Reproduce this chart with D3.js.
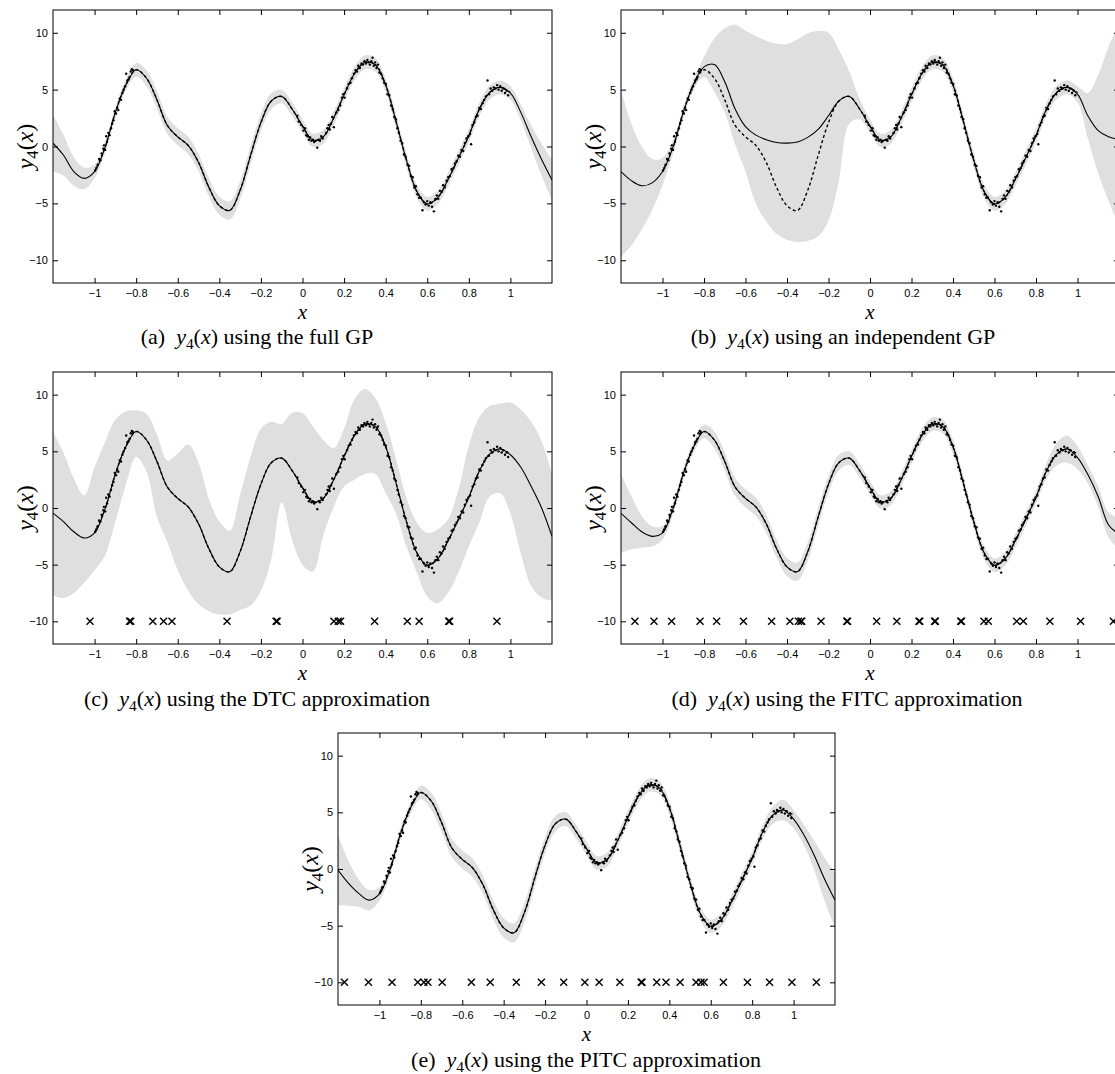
<!DOCTYPE html>
<meta charset="utf-8">
<style>
body { margin: 0; background: #fff; }
svg { display: block; }
.tick text { font-family: "Liberation Sans", Arial, sans-serif; font-size: 11px; }
.caption { font-family: "Liberation Serif", "Times New Roman", serif; font-size: 22px; }
.axlabel { font-family: "Liberation Serif", "Times New Roman", serif; }
</style>
<svg width="1115" height="1074"></svg>
<script src="https://d3js.org/d3.v7.min.js"></script>
<script>

var xs = [-1.2, -1.15, -1.1, -1.05, -1, -0.95, -0.9, -0.85, -0.8, -0.75,
  -0.7, -0.65, -0.6, -0.55, -0.5, -0.45, -0.4, -0.35, -0.3, -0.25,
  -0.2, -0.15, -0.1, -0.05, 0, 0.05, 0.1, 0.15, 0.2, 0.25,
  0.3, 0.35, 0.4, 0.45, 0.5, 0.55, 0.6, 0.65, 0.7, 0.75,
  0.8, 0.85, 0.9, 0.95, 1, 1.05, 1.1, 1.15, 1.2];

// true function (dashed), only drawn on [-1, 1]
var trueY = [0.3, -0.7, -2.1, -2.8, -2.2, -0.1, 3.0, 5.4, 6.75, 6.0,
  4.1, 1.85, 0.85, 0.1, -1.4, -3.6, -5.2, -5.62, -3.85, -0.8,
  2.1, 4.0, 4.4, 3.3, 1.8, 0.55, 0.85, 2.5, 4.55, 6.4,
  7.4, 7.2, 5.4, 2.2, -1.2, -3.95, -5.05, -4.5, -2.9, -1.0,
  0.95, 3.25, 4.75, 5.2, 4.75, 3.05, 0.85, -1.1, -2.9];

// (a) full GP: mean and two standard deviations
var meanA = [0.3, -0.75, -2.2, -2.8, -2.2, -0.1, 3.0, 5.4, 6.75, 6.0,
  4.1, 1.85, 0.85, 0.1, -1.4, -3.6, -5.2, -5.62, -3.85, -0.8,
  2.1, 4.0, 4.4, 3.3, 1.8, 0.55, 0.85, 2.5, 4.55, 6.4,
  7.4, 7.2, 5.4, 2.2, -1.2, -3.95, -5.05, -4.5, -2.9, -1.0,
  0.95, 3.25, 4.75, 5.2, 4.7, 3.0, 0.85, -1.15, -2.95];
var sdA = [2.5, 1.8, 1.25, 0.95, 0.6, 0.5, 0.5, 0.5, 0.6, 0.7,
  0.75, 0.75, 0.75, 0.75, 0.75, 0.8, 0.8, 0.8, 0.8, 0.8,
  0.75, 0.7, 0.6, 0.6, 0.6, 0.6, 0.6, 0.6, 0.6, 0.6,
  0.6, 0.6, 0.6, 0.6, 0.6, 0.6, 0.6, 0.6, 0.6, 0.6,
  0.6, 0.6, 0.6, 0.6, 0.6, 0.7, 1.0, 1.4, 1.8];

// (b) independent GP: mean, upper and lower band edges
var meanB = [-2.2, -3.0, -3.45, -3.2, -2.2, -0.1, 3.0, 5.5, 7.0, 7.2,
  5.7, 3.3, 1.75, 1.0, 0.6, 0.35, 0.3, 0.4, 0.8, 1.5,
  2.7, 4.0, 4.4, 3.3, 1.8, 0.55, 0.85, 2.5, 4.55, 6.4,
  7.4, 7.2, 5.4, 2.2, -1.2, -3.95, -5.05, -4.5, -2.9, -1.0,
  0.95, 3.25, 4.75, 5.2, 4.6, 2.7, 1.4, 0.85, 0.6];
var hiB = [5.0, 2.0, 0.0, -1.1, -1.0, 0.5, 3.5, 6.0, 7.9, 9.5,
  10.4, 10.7, 10.2, 9.7, 9.3, 9.05, 9.0, 9.4, 9.95, 10.15,
  10.0, 8.5, 6.6, 4.2, 2.4, 1.15, 1.45, 3.1, 5.15, 7.0,
  8.0, 7.8, 6.0, 2.8, -0.6, -3.35, -4.45, -3.9, -2.3, -0.4,
  1.55, 3.85, 5.35, 5.8, 5.3, 4.7, 6.3, 8.8, 10.8];
var loB = [-9.7, -8.7, -7.3, -5.6, -3.4, -0.7, 2.5, 5.0, 6.1, 4.8,
  3.0, 0.2, -2.2, -5.0, -6.6, -7.7, -8.2, -8.4, -8.3, -7.9,
  -6.5, -3.0, 2.0, 2.4, 1.2, -0.05, 0.25, 1.9, 3.95, 5.8,
  6.8, 6.6, 4.8, 1.6, -1.8, -4.55, -5.65, -5.1, -3.5, -1.6,
  0.35, 2.65, 4.15, 4.6, 3.9, 0.7, -2.4, -4.8, -7.0];

// (c) DTC
var meanC = [-0.45, -1.2, -2.1, -2.65, -2.2, -0.1, 3.0, 5.4, 6.75, 6.0,
  4.1, 1.85, 0.85, 0.1, -1.4, -3.6, -5.2, -5.62, -3.85, -0.8,
  2.1, 4.0, 4.4, 3.3, 1.8, 0.55, 0.85, 2.5, 4.55, 6.4,
  7.4, 7.2, 5.4, 2.2, -1.2, -3.95, -5.05, -4.5, -2.9, -1.0,
  0.95, 3.25, 4.75, 5.2, 4.7, 3.6, 1.9, 0.0, -2.5];
var hiC = [6.7, 4.9, 2.6, 1.1, 3.6, 5.8, 7.8, 8.5, 8.6, 8.3,
  6.5, 4.2, 4.8, 5.6, 4.0, 0.8, -1.2, -2.0, 1.2, 4.5,
  7.0, 7.6, 7.4, 8.4, 8.35, 7.2, 6.0, 5.3, 7.0, 9.6,
  10.5, 9.7, 7.5, 4.3, 0.9, -1.3, -2.2, -1.9, -1.0, 1.6,
  5.5, 8.0, 9.0, 9.2, 9.3, 8.7, 7.6, 5.9, 3.0];
var loC = [-7.7, -7.95, -7.5, -6.6, -5.5, -4.2, -1.2, 2.0, 4.5, 3.2,
  -0.8, -3.0, -5.5, -7.3, -8.5, -9.1, -9.4, -9.4, -9.0, -8.6,
  -7.3, -4.5, 0.5, -2.8, -5.0, -5.6, -2.4, 0.1, 1.9, 2.5,
  3.0, 3.0, 1.3, -0.5, -3.4, -5.7, -7.8, -8.4, -7.5, -5.7,
  -3.4, -1.3, 1.0, 1.3, -0.5, -4.0, -6.9, -7.9, -8.2];

// (d) FITC
var meanD = [-0.47, -1.3, -2.1, -2.5, -2.2, -0.1, 3.0, 5.4, 6.75, 6.0,
  4.1, 1.85, 0.85, 0.1, -1.4, -3.6, -5.2, -5.62, -3.85, -0.8,
  2.1, 4.0, 4.4, 3.3, 1.8, 0.55, 0.85, 2.5, 4.55, 6.4,
  7.4, 7.2, 5.4, 2.2, -1.2, -3.95, -5.05, -4.5, -2.9, -1.0,
  0.95, 3.25, 4.75, 5.2, 4.45, 2.95, 1.0, -1.5, -2.3];
var sdD = [3.5, 2.35, 1.4, 0.9, 0.6, 0.5, 0.5, 0.5, 0.6, 0.75,
  0.8, 0.8, 0.8, 0.8, 0.8, 0.8, 0.8, 0.8, 0.8, 0.8,
  0.75, 0.7, 0.6, 0.6, 0.6, 0.6, 0.6, 0.6, 0.6, 0.6,
  0.6, 0.6, 0.6, 0.6, 0.6, 0.6, 0.6, 0.6, 0.6, 0.6,
  0.6, 0.7, 1.0, 1.2, 1.0, 0.8, 0.9, 1.1, 1.4];

// (e) PITC
var meanE = [-0.1, -1.25, -2.15, -2.75, -2.2, -0.1, 3.0, 5.4, 6.75, 6.0,
  4.1, 1.85, 0.85, 0.1, -1.4, -3.6, -5.2, -5.62, -3.85, -0.8,
  2.1, 4.0, 4.4, 3.3, 1.8, 0.55, 0.85, 2.5, 4.55, 6.4,
  7.4, 7.2, 5.4, 2.2, -1.2, -3.95, -5.05, -4.5, -2.9, -1.0,
  0.95, 3.25, 4.75, 5.2, 4.4, 3.0, 1.2, -0.9, -2.75];
var sdE = [3.1, 2.0, 1.2, 0.9, 0.6, 0.5, 0.5, 0.5, 0.6, 0.75,
  0.8, 0.8, 0.8, 0.8, 0.8, 0.85, 0.85, 0.85, 0.85, 0.8,
  0.75, 0.7, 0.6, 0.6, 0.6, 0.6, 0.6, 0.6, 0.6, 0.6,
  0.6, 0.6, 0.6, 0.6, 0.6, 0.6, 0.6, 0.6, 0.6, 0.6,
  0.6, 0.6, 0.75, 0.9, 0.8, 0.9, 1.3, 1.9, 2.45];

// noisy observations of y4 (same in every panel)
var obs = [
  [-0.997, -2.1], [-0.992, -1.9], [-0.985, -1.6], [-0.978, -1.1], [-0.972, -1.2],
  [-0.966, -0.6], [-0.958, -0.2], [-0.955, 0.1], [-0.949, -0.3], [-0.944, 0.9],
  [-0.94, 0.4], [-0.934, 1.2], [-0.928, 1.0], [-0.921, 1.6], [-0.915, 2.0],
  [-0.909, 2.3], [-0.903, 3.1], [-0.897, 2.9], [-0.891, 3.4], [-0.886, 3.2],
  [-0.879, 4.2], [-0.873, 4.1], [-0.866, 4.7], [-0.86, 5.0], [-0.853, 5.3],
  [-0.848, 6.4], [-0.842, 5.8], [-0.837, 5.9], [-0.832, 6.1], [-0.826, 6.6],
  [-0.821, 6.8], [-0.815, 6.7],
  [-0.025, 2.7], [-0.018, 2.2], [-0.006, 1.9], [0.004, 1.4], [0.012, 1.6],
  [0.018, 1.0], [0.024, 0.9], [0.031, 0.6], [0.037, 0.8], [0.043, 0.5],
  [0.05, 0.6], [0.056, 0.4], [0.063, 0.5], [0.071, -0.1], [0.078, 0.6],
  [0.084, 0.5], [0.09, 0.9], [0.097, 0.7], [0.113, 1.2], [0.12, 1.6],
  [0.126, 1.9], [0.131, 1.5], [0.137, 2.0], [0.143, 2.6], [0.151, 1.7],
  [0.163, 3.0], [0.172, 3.2], [0.181, 3.6], [0.19, 4.3], [0.196, 4.6],
  [0.203, 4.3], [0.214, 5.1], [0.222, 5.5], [0.231, 5.6], [0.238, 6.0],
  [0.247, 6.4], [0.255, 6.7], [0.262, 6.6], [0.268, 7.1], [0.276, 6.9],
  [0.284, 7.3], [0.291, 7.2], [0.298, 7.5], [0.305, 7.3], [0.312, 7.6],
  [0.318, 7.4], [0.324, 7.2], [0.331, 7.5], [0.337, 7.8], [0.343, 7.1],
  [0.349, 7.4], [0.356, 6.9], [0.363, 7.2], [0.37, 6.5], [0.378, 6.4],
  [0.386, 6.0], [0.393, 5.6], [0.401, 5.5], [0.409, 4.6], [0.417, 4.5],
  [0.426, 3.6], [0.434, 3.3], [0.441, 2.6], [0.449, 2.4], [0.456, 1.6],
  [0.463, 1.2], [0.472, 0.5], [0.48, 0.3], [0.488, -0.7], [0.496, -0.9],
  [0.505, -1.6], [0.513, -1.7], [0.521, -2.6], [0.53, -2.7], [0.538, -3.6],
  [0.545, -3.5], [0.553, -4.2], [0.561, -4.5], [0.569, -4.5], [0.577, -5.6],
  [0.584, -4.9], [0.592, -5.1], [0.6, -4.8], [0.607, -5.2], [0.615, -4.9],
  [0.623, -5.3], [0.632, -5.7], [0.639, -4.6], [0.646, -4.3], [0.653, -4.6],
  [0.661, -3.9], [0.669, -4.0], [0.676, -3.4], [0.684, -3.6], [0.693, -3.0],
  [0.701, -2.7], [0.709, -2.6], [0.717, -2.0], [0.726, -1.9], [0.733, -1.5],
  [0.741, -1.3], [0.749, -0.8], [0.757, -0.9], [0.765, -0.3], [0.773, -0.4],
  [0.781, 0.3], [0.789, 0.7], [0.797, 0.9], [0.806, 1.1], [0.811, 0.2],
  [0.818, 1.9], [0.826, 2.1], [0.834, 2.6], [0.842, 2.7], [0.85, 3.4],
  [0.858, 3.3], [0.866, 3.8], [0.874, 4.1], [0.882, 4.4], [0.89, 5.8],
  [0.897, 4.6], [0.905, 5.1], [0.913, 4.9], [0.92, 5.2], [0.928, 5.1],
  [0.936, 5.4], [0.943, 5.0], [0.951, 5.3], [0.958, 4.9], [0.966, 5.1],
  [0.974, 4.7], [0.982, 4.9], [0.989, 4.5]
];

// inducing inputs (drawn as crosses at y = -10)
var inducingC = [-1.022, -0.832, -0.826, -0.72, -0.668, -0.628, -0.363, -0.127, -0.122,
  0.151, 0.172, 0.183, 0.347, 0.504, 0.561, 0.703, 0.708, 0.935];
var inducingD = [-1.133, -1.041, -0.956, -0.819, -0.739, -0.61, -0.474, -0.386, -0.345,
  -0.333, -0.329, -0.236, -0.112, -0.108, 0.032, 0.129, 0.236, 0.24, 0.311, 0.315,
  0.437, 0.441, 0.549, 0.57, 0.707, 0.739, 0.867, 1.015, 1.173];
var inducingE = [-1.169, -1.053, -0.939, -0.815, -0.785, -0.766, -0.697, -0.556, -0.465,
  -0.339, -0.218, -0.11, -0.008, 0.061, 0.161, 0.264, 0.268, 0.339, 0.384, 0.452,
  0.529, 0.553, 0.568, 0.661, 0.777, 0.884, 0.992, 1.11];

var xTicks = [-1, -0.8, -0.6, -0.4, -0.2, 0, 0.2, 0.4, 0.6, 0.8, 1];
var yTicks = [-10, -5, 0, 5, 10];

var svg = d3.select("svg");
svg.append("rect").attr("width", 1115).attr("height", 1074).attr("fill", "#fff");

var panels = [
  {key: "a", left: 53, top: 10, width: 499, height: 273, mean: meanA, sd2: sdA,
   tag: "(a)", rest: " using the full GP", capX: 257, capY: 344},
  {key: "b", left: 621, top: 10, width: 498, height: 273, mean: meanB, hi: hiB, lo: loB,
   tag: "(b)", rest: " using an independent GP", capX: 843, capY: 344},
  {key: "c", left: 53, top: 372, width: 499, height: 272, mean: meanC, hi: hiC, lo: loC,
   inducing: inducingC, tag: "(c)", rest: " using the DTC approximation", capX: 257, capY: 706},
  {key: "d", left: 621, top: 372, width: 498, height: 272, mean: meanD, sd2: sdD,
   inducing: inducingD, tag: "(d)", rest: " using the FITC approximation", capX: 847, capY: 706},
  {key: "e", left: 338, top: 733, width: 497, height: 272, mean: meanE, sd2: sdE,
   inducing: inducingE, tag: "(e)", rest: " using the PITC approximation", capX: 586, capY: 1067}
];

var fmt = d3.format("~g");

// y_4(x) written with tspans: italic y, subscript 4, (, italic x, )
function mathY4(t, size) {
  t.append("tspan").style("font-style", "italic").text("y");
  t.append("tspan").style("font-size", (size * 0.7) + "px").attr("dy", size * 0.22).text("4");
  t.append("tspan").attr("dy", -size * 0.22).text("(");
  t.append("tspan").style("font-style", "italic").text("x");
  t.append("tspan").text(")");
}

panels.forEach(function (p) {
  var x = d3.scaleLinear().domain([-1.2, 1.2]).range([0, p.width]);
  var y = d3.scaleLinear().domain([-12, 12]).range([p.height, 0]);

  var g = svg.append("g").attr("transform", "translate(" + p.left + "," + p.top + ")");

  g.append("clipPath").attr("id", "clip-" + p.key)
    .append("rect").attr("width", p.width).attr("height", p.height);
  var plot = g.append("g").attr("clip-path", "url(#clip-" + p.key + ")");

  var rows = xs.map(function (xv, i) {
    return {
      x: xv,
      m: p.mean[i],
      lo: p.lo ? p.lo[i] : p.mean[i] - p.sd2[i],
      hi: p.hi ? p.hi[i] : p.mean[i] + p.sd2[i]
    };
  });

  // confidence band
  plot.append("path").datum(rows)
    .attr("fill", "#dfdfdf")
    .attr("d", d3.area()
      .x(function (d) { return x(d.x); })
      .y0(function (d) { return y(d.lo); })
      .y1(function (d) { return y(d.hi); })
      .curve(d3.curveCatmullRom));

  // true function, dashed
  var truth = xs.map(function (xv, i) { return [xv, trueY[i]]; })
    .filter(function (d) { return d[0] >= -1 && d[0] <= 1; });
  plot.append("path").datum(truth)
    .attr("fill", "none").attr("stroke", "#000")
    .attr("stroke-width", 1.4).attr("stroke-dasharray", "3,2.5")
    .attr("d", d3.line()
      .x(function (d) { return x(d[0]); })
      .y(function (d) { return y(d[1]); })
      .curve(d3.curveCatmullRom));

  // predictive mean
  plot.append("path").datum(rows)
    .attr("fill", "none").attr("stroke", "#000").attr("stroke-width", 1.1)
    .attr("d", d3.line()
      .x(function (d) { return x(d.x); })
      .y(function (d) { return y(d.m); })
      .curve(d3.curveCatmullRom));

  // observations
  plot.append("g").selectAll("circle").data(obs).join("circle")
    .attr("cx", function (d) { return x(d[0]); })
    .attr("cy", function (d) { return y(d[1]); })
    .attr("r", 1.2).attr("fill", "#000");

  // inducing points
  if (p.inducing) {
    plot.append("g").selectAll("path").data(p.inducing).join("path")
      .attr("transform", function (d) { return "translate(" + x(d) + "," + y(-10) + ")"; })
      .attr("d", "M-3.5,-3.5L3.5,3.5M-3.5,3.5L3.5,-3.5")
      .attr("stroke", "#000").attr("stroke-width", 1.4).attr("fill", "none");
  }

  // axes, ticks pointing inwards on all four sides
  var bottom = g.append("g").attr("transform", "translate(0," + p.height + ")")
    .call(d3.axisBottom(x).tickValues(xTicks).tickSize(-5).tickSizeOuter(0)
      .tickPadding(6).tickFormat(fmt));
  var top = g.append("g")
    .call(d3.axisTop(x).tickValues(xTicks).tickSize(-5).tickSizeOuter(0)
      .tickFormat(function () { return ""; }));
  var left = g.append("g")
    .call(d3.axisLeft(y).tickValues(yTicks).tickSize(-5).tickSizeOuter(0)
      .tickPadding(5).tickFormat(fmt));
  var right = g.append("g").attr("transform", "translate(" + p.width + ",0)")
    .call(d3.axisRight(y).tickValues(yTicks).tickSize(-5).tickSizeOuter(0)
      .tickFormat(function () { return ""; }));
  [bottom, top, left, right].forEach(function (a) {
    a.select(".domain").remove();
    a.attr("font-family", null).attr("font-size", null);
  });

  g.append("rect").attr("width", p.width).attr("height", p.height)
    .attr("fill", "none").attr("stroke", "#000").attr("stroke-width", 1);

  // axis labels
  g.append("text").attr("class", "axlabel")
    .attr("x", p.width / 2).attr("y", p.height + 36)
    .attr("text-anchor", "middle")
    .style("font-size", "21px").style("font-style", "italic")
    .text("x");

  var yl = g.append("text").attr("class", "axlabel")
    .attr("transform", "translate(-20," + (p.height / 2) + ") rotate(-90)")
    .attr("text-anchor", "middle")
    .style("font-size", "24px");
  mathY4(yl, 24);

  // sub-figure caption
  var cap = svg.append("text").attr("class", "caption")
    .attr("x", p.capX).attr("y", p.capY)
    .attr("text-anchor", "middle");
  cap.append("tspan").text(p.tag + "\u00a0\u00a0");
  mathY4(cap, 22);
  cap.append("tspan").text(p.rest);
});

</script>
